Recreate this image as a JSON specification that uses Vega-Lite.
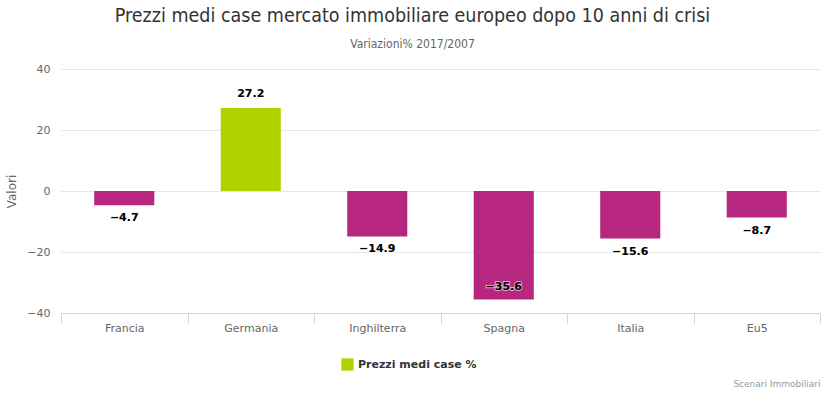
{
  "$schema": "https://vega.github.io/schema/vega-lite/v6.json",
  "width": 759,
  "height": 244,
  "autosize": "none",
  "padding": {"left": 61, "top": 69, "right": 5, "bottom": 84},
  "background": "white",
  "title": {
    "text": "Prezzi medi case mercato immobiliare europeo dopo 10 anni di crisi",
    "subtitle": "Variazioni% 2017/2007",
    "anchor": "middle",
    "dx": -28,
    "offset": 12,
    "font": "DejaVu Sans Condensed, Liberation Sans Narrow, Open Sans, sans-serif",
    "fontSize": 19.5,
    "fontWeight": "normal",
    "color": "#333333",
    "subtitleFont": "DejaVu Sans Condensed, Liberation Sans Narrow, Open Sans, sans-serif",
    "subtitleFontSize": 12,
    "subtitleColor": "#666666",
    "subtitlePadding": 13
  },
  "data": {
    "values": [
      {"paese": "Francia", "valore": -4.7, "serie": "Prezzi medi case %"},
      {"paese": "Germania", "valore": 27.2, "serie": "Prezzi medi case %"},
      {"paese": "Inghilterra", "valore": -14.9, "serie": "Prezzi medi case %"},
      {"paese": "Spagna", "valore": -35.6, "serie": "Prezzi medi case %"},
      {"paese": "Italia", "valore": -15.6, "serie": "Prezzi medi case %"},
      {"paese": "Eu5", "valore": -8.7, "serie": "Prezzi medi case %"}
    ]
  },
  "encoding": {
    "x": {
      "field": "paese",
      "type": "nominal",
      "sort": null,
      "scale": {"paddingInner": 0, "paddingOuter": 0},
      "axis": {
        "title": "Scenari Immobiliari",
        "titleAnchor": "end",
        "titleAlign": "right",
        "titleFont": "DejaVu Sans",
        "titleFontSize": 9,
        "titleFontWeight": "normal",
        "titleColor": "#999999",
        "titlePadding": 46,
        "labelAngle": 0,
        "labelFont": "DejaVu Sans",
        "labelFontSize": 11,
        "labelColor": "#666666",
        "labelPadding": -1,
        "domainColor": "#ccd6eb",
        "tickColor": "#ccd6eb",
        "tickSize": 10,
        "tickBand": "extent",
        "grid": false
      }
    },
    "y": {
      "field": "valore",
      "type": "quantitative",
      "scale": {"domain": [-40, 40], "nice": false},
      "axis": {
        "title": "Valori",
        "values": [-40, -20, 0, 20, 40],
        "titleFont": "DejaVu Sans",
        "titleFontSize": 12,
        "titleFontWeight": "normal",
        "titleColor": "#666666",
        "titlePadding": 8,
        "labelFont": "DejaVu Sans",
        "labelFontSize": 11,
        "labelColor": "#666666",
        "labelPadding": 11,
        "domain": false,
        "ticks": false,
        "gridColor": "#e6e6e6"
      }
    }
  },
  "layer": [
    {
      "mark": {"type": "bar", "width": {"band": 0.475}},
      "encoding": {
        "color": {
          "field": "serie",
          "type": "nominal",
          "scale": {"range": ["#b2d100"]},
          "condition": {"test": "datum.valore < 0", "value": "#b7267f"},
          "legend": {
            "title": null,
            "orient": "none",
            "legendX": 280,
            "legendY": 289,
            "symbolType": "square",
            "symbolSize": 150,
            "symbolStrokeWidth": 0,
            "labelFont": "DejaVu Sans",
            "labelFontSize": 11,
            "labelFontWeight": "bold",
            "labelColor": "#333333"
          }
        }
      }
    },
    {
      "transform": [{"filter": "datum.valore >= 0"}],
      "mark": {"type": "text", "dy": -14, "baseline": "middle", "font": "DejaVu Sans", "fontSize": 11, "fontWeight": "bold", "color": "#000000", "stroke": "#ffffff", "strokeWidth": 2, "strokeOpacity": 0.8},
      "encoding": {"text": {"field": "valore", "type": "quantitative", "format": ".1f"}}
    },
    {
      "transform": [{"filter": "datum.valore >= 0"}],
      "mark": {"type": "text", "dy": -14, "baseline": "middle", "font": "DejaVu Sans", "fontSize": 11, "fontWeight": "bold", "color": "#000000"},
      "encoding": {"text": {"field": "valore", "type": "quantitative", "format": ".1f"}}
    },
    {
      "transform": [{"filter": "datum.valore < 0 && datum.valore > -30"}],
      "mark": {"type": "text", "dy": 13, "baseline": "middle", "font": "DejaVu Sans", "fontSize": 11, "fontWeight": "bold", "color": "#000000", "stroke": "#ffffff", "strokeWidth": 2, "strokeOpacity": 0.8},
      "encoding": {"text": {"field": "valore", "type": "quantitative", "format": ".1f"}}
    },
    {
      "transform": [{"filter": "datum.valore < 0 && datum.valore > -30"}],
      "mark": {"type": "text", "dy": 13, "baseline": "middle", "font": "DejaVu Sans", "fontSize": 11, "fontWeight": "bold", "color": "#000000"},
      "encoding": {"text": {"field": "valore", "type": "quantitative", "format": ".1f"}}
    },
    {
      "transform": [{"filter": "datum.valore <= -30"}],
      "mark": {"type": "text", "dy": -13, "baseline": "middle", "font": "DejaVu Sans", "fontSize": 11, "fontWeight": "bold", "color": "#000000", "stroke": "#ffffff", "strokeWidth": 2, "strokeOpacity": 0.6},
      "encoding": {"text": {"field": "valore", "type": "quantitative", "format": ".1f"}}
    },
    {
      "transform": [{"filter": "datum.valore <= -30"}],
      "mark": {"type": "text", "dy": -13, "baseline": "middle", "font": "DejaVu Sans", "fontSize": 11, "fontWeight": "bold", "color": "#000000"},
      "encoding": {"text": {"field": "valore", "type": "quantitative", "format": ".1f"}}
    }
  ],
  "config": {"view": {"stroke": null}}
}
